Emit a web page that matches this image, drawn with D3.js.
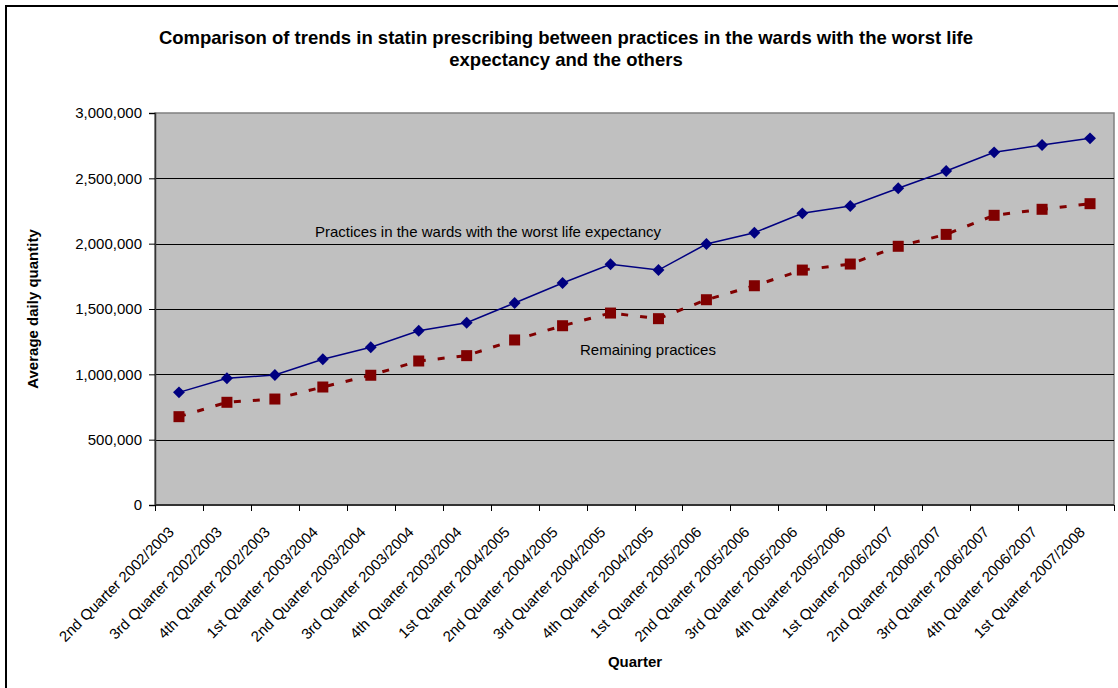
<!DOCTYPE html>
<html>
<head>
<meta charset="utf-8">
<script src="https://cdn.jsdelivr.net/npm/d3@7"></script>
<style>
  html, body { margin: 0; padding: 0; background: #fff; }
  svg { display: block; font-family: "Liberation Sans", Arial, sans-serif; }
</style>
</head>
<body>
<svg id="chart" width="1118" height="688"></svg>
<script>
// Quarterly statin prescribing, average daily quantity
const quarters = [
  "2nd Quarter 2002/2003", "3rd Quarter 2002/2003", "4th Quarter 2002/2003",
  "1st Quarter 2003/2004", "2nd Quarter 2003/2004", "3rd Quarter 2003/2004", "4th Quarter 2003/2004",
  "1st Quarter 2004/2005", "2nd Quarter 2004/2005", "3rd Quarter 2004/2005", "4th Quarter 2004/2005",
  "1st Quarter 2005/2006", "2nd Quarter 2005/2006", "3rd Quarter 2005/2006", "4th Quarter 2005/2006",
  "1st Quarter 2006/2007", "2nd Quarter 2006/2007", "3rd Quarter 2006/2007", "4th Quarter 2006/2007",
  "1st Quarter 2007/2008"
];
const worstWards = [
  862000, 970000, 995000, 1115000, 1207000, 1334000, 1395000,
  1546000, 1699000, 1842000, 1798000, 1997000, 2084000, 2232000,
  2288000, 2424000, 2556000, 2699000, 2755000, 2806000
];
const remaining = [
  676000, 786000, 811000, 903000, 993000, 1102000, 1143000,
  1263000, 1372000, 1469000, 1426000, 1571000, 1678000, 1798000,
  1844000, 1980000, 2071000, 2217000, 2263000, 2306000
];
const yTicks = [0, 500000, 1000000, 1500000, 2000000, 2500000, 3000000];
const titleLines = [
  "Comparison of trends in statin prescribing between practices in the wards with the worst life",
  "expectancy and the others"
];
const seriesLabels = ["Practices in the wards with the worst life expectancy", "Remaining practices"];

const svg = d3.select("#chart");
const W = 1118, H = 688;
const plot = { left: 155, right: 1114, top: 113, bottom: 505 };

// outer chart frame
svg.append("rect")
  .attr("x", 6).attr("y", 6).attr("width", W + 20).attr("height", H + 20)
  .attr("fill", "#fff").attr("stroke", "#000").attr("stroke-width", 2);

const x = d3.scaleBand().domain(quarters).range([plot.left, plot.right]);
const y = d3.scaleLinear().domain([0, 3000000]).range([plot.bottom, plot.top]);
const cx = d => x(d) + x.bandwidth() / 2;

// plot area
svg.append("rect")
  .attr("x", plot.left).attr("y", plot.top)
  .attr("width", plot.right - plot.left).attr("height", plot.bottom - plot.top)
  .attr("fill", "#c0c0c0").attr("stroke", "#808080").attr("stroke-width", 1.5);

// horizontal gridlines
svg.append("g").selectAll("line")
  .data(yTicks.filter(t => t > 0 && t < 3000000))
  .join("line")
  .attr("x1", plot.left).attr("x2", plot.right)
  .attr("y1", d => Math.round(y(d)) + 0.5).attr("y2", d => Math.round(y(d)) + 0.5)
  .attr("stroke", "#000").attr("stroke-width", 1);

// y axis
const yAxis = svg.append("g")
  .attr("transform", `translate(${plot.left},0)`)
  .call(d3.axisLeft(y).tickValues(yTicks).tickSize(6).tickPadding(7)
    .tickFormat(d3.format(",")));
yAxis.select(".domain").attr("stroke", "#333").attr("stroke-width", 1.5);
yAxis.selectAll(".tick line").attr("stroke", "#000");
yAxis.selectAll("text").attr("font-size", 15).attr("fill", "#000")
  .attr("font-family", "Liberation Sans, Arial, sans-serif");

// x axis: ticks on category boundaries
const xAxisG = svg.append("g");
xAxisG.append("line")
  .attr("x1", plot.left).attr("x2", plot.right)
  .attr("y1", plot.bottom).attr("y2", plot.bottom)
  .attr("stroke", "#333").attr("stroke-width", 2);
const bounds = quarters.map(q => x(q)).concat([plot.right]);
xAxisG.selectAll("line.tk").data(bounds).join("line")
  .attr("class", "tk")
  .attr("x1", d => Math.round(d) + 0.5).attr("x2", d => Math.round(d) + 0.5)
  .attr("y1", plot.bottom).attr("y2", plot.bottom + 6)
  .attr("stroke", "#000").attr("stroke-width", 1);
xAxisG.selectAll("text").data(quarters).join("text")
  .attr("transform", d => `translate(${cx(d) - 4},${plot.bottom + 28}) rotate(-45)`)
  .attr("text-anchor", "end")
  .attr("font-size", 15).attr("fill", "#000")
  .text(d => d);

// axis titles
svg.append("text")
  .attr("transform", `translate(38,${(plot.top + plot.bottom) / 2}) rotate(-90)`)
  .attr("text-anchor", "middle").attr("font-weight", "bold").attr("font-size", 15)
  .text("Average daily quantity");
svg.append("text")
  .attr("x", 635).attr("y", 667)
  .attr("text-anchor", "middle").attr("font-weight", "bold").attr("font-size", 15)
  .text("Quarter");

// chart title
svg.append("g").selectAll("text").data(titleLines).join("text")
  .attr("x", 566).attr("y", (d, i) => 44 + i * 22)
  .attr("text-anchor", "middle").attr("font-weight", "bold").attr("font-size", 18.5)
  .text(d => d);

// series lines
const line = vals => d3.line()
  .x((d, i) => cx(quarters[i]))
  .y(d => y(d))(vals);

svg.append("path")
  .attr("d", line(remaining))
  .attr("fill", "none").attr("stroke", "#800000").attr("stroke-width", 3)
  .attr("stroke-dasharray", "7,12");
svg.append("path")
  .attr("d", line(worstWards))
  .attr("fill", "none").attr("stroke", "#000080").attr("stroke-width", 1.5);

// markers
svg.append("g").selectAll("rect").data(remaining).join("rect")
  .attr("x", (d, i) => cx(quarters[i]) - 5.5).attr("y", d => y(d) - 5.5)
  .attr("width", 11).attr("height", 11)
  .attr("fill", "#800000");
const diamond = d3.symbol().type(d3.symbolDiamond2).size(90);
svg.append("g").selectAll("path").data(worstWards).join("path")
  .attr("transform", (d, i) => `translate(${cx(quarters[i])},${y(d)})`)
  .attr("d", diamond)
  .attr("fill", "#000080");

// series labels
svg.append("text")
  .attr("x", 315).attr("y", 237)
  .attr("font-size", 15).attr("fill", "#000")
  .text(seriesLabels[0]);
svg.append("text")
  .attr("x", 580).attr("y", 355)
  .attr("font-size", 15).attr("fill", "#000")
  .text(seriesLabels[1]);
</script>
</body>
</html>
